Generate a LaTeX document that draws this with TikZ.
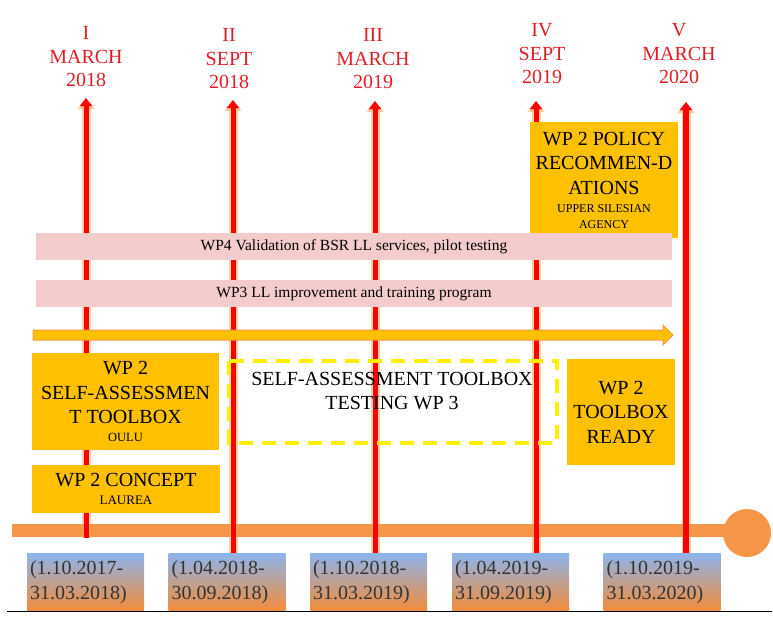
\documentclass[tikz,border=0pt]{standalone}
\usepackage{fontspec}
\setmainfont{Liberation Serif}
\usetikzlibrary{arrows.meta}

\definecolor{gold}{RGB}{255,192,0}
\definecolor{barorange}{RGB}{247,150,70}
\definecolor{bandpink}{RGB}{244,204,204}
\definecolor{lblred}{RGB}{222,30,36}
\definecolor{dateblue}{RGB}{141,180,236}
\definecolor{dateorange}{RGB}{242,140,58}
\definecolor{testyellow}{RGB}{255,240,0}

\tikzset{
	datelabel/.style={text=lblred, align=center, font=\fontsize{20}{23.5}\selectfont},
	goldbox/.style={fill=gold, align=center, inner sep=2pt, font=\fontsize{20}{24.5}\selectfont},
	band/.style={fill=bandpink, minimum width=636pt, minimum height=27pt, inner sep=0pt, font=\fontsize{15.5}{18}\selectfont},
	datebox/.style={shading=axis, top color=dateblue, bottom color=dateorange, minimum width=117pt, minimum height=57pt, text width=111pt, align=left, inner sep=3pt, font=\fontsize{20}{25}\selectfont, text=black!80},
	halo/.style={draw=orange!70, opacity=0.5, line width=9pt, -{Triangle[width=17pt,length=11pt]}},
	redarrow/.style={draw=red, line width=5pt, -{Triangle[width=12pt,length=8pt]}},
}

\begin{document}
\begin{tikzpicture}[x=1pt, y=-1pt]
		%%%%% START %%%%%
		\useasboundingbox (0, 0) rectangle (773, 619);
		
		% time axis
		\coordinate (axl) at (12, 530);
		\coordinate (axr) at (747, 530);
		\draw[line width=13pt, barorange] (axl) -- (axr);
		\fill[barorange] (747, 533) circle (24);
		\draw (7, 611) -- (772, 611);
		
		% milestones
		\node[datelabel] (m1) at (86, 57) {I\\MARCH\\2018};
		\node[datelabel] (m2) at (229, 59) {II\\SEPT\\2018};
		\node[datelabel] (m3) at (373, 59) {III\\MARCH\\2019};
		\node[datelabel] (m4) at (542, 54) {IV\\SEPT\\2019};
		\node[datelabel] (m5) at (679, 54) {V\\MARCH\\2020};
		
		\coordinate (t1) at (86, 98);
		\coordinate (t2) at (233, 100);
		\coordinate (t3) at (375, 101);
		\coordinate (t4) at (536, 101);
		\coordinate (t5) at (686, 102);
		\coordinate (b1) at (86, 538);
		\coordinate (b2) at (233, 555);
		\coordinate (b3) at (375, 555);
		\coordinate (b4) at (536, 555);
		\coordinate (b5) at (686, 555);
		
		\draw[halo] (b1) -- (t1);
		\draw[halo] (b2) -- (t2);
		\draw[halo] (b3) -- (t3);
		\draw[halo] (b4) -- (t4);
		\draw[halo] (b5) -- (t5);
		\draw[redarrow] (b1) -- (t1);
		\draw[redarrow] (b2) -- (t2);
		\draw[redarrow] (b3) -- (t3);
		\draw[redarrow] (b4) -- (t4);
		\draw[redarrow, line width=6pt] (b5) -- (t5);
		
		% periods
		\node[datebox] (d1) at (85.5, 582) {(1.10.2017-\\31.03.2018)};
		\node[datebox] (d2) at (227, 582) {(1.04.2018-\\30.09.2018)};
		\node[datebox] (d3) at (368.5, 582) {(1.10.2018-\\31.03.2019)};
		\node[datebox] (d4) at (510.5, 582) {(1.04.2019-\\31.09.2019)};
		\node[datebox] (d5) at (662, 582) {(1.10.2019-\\31.03.2020)};
		
		% work packages
		\node[goldbox, minimum width=148pt, minimum height=116pt] (policy) at (604, 180)
			{WP 2 POLICY\\RECOMMEN-D\\ATIONS\\[-6pt]{\fontsize{12}{14}\selectfont UPPER SILESIAN}\\[-9pt]{\fontsize{12}{14}\selectfont AGENCY}};
		
		\node[band] (wp4) at (354, 246.5) {WP4 Validation of BSR LL services, pilot testing};
		\node[band] (wp3) at (354, 293.5) {WP3 LL improvement and training program};
		
		\draw[fill=gold, draw=barorange, line width=1pt] (33, 330) -- (663, 330) -- (663, 325) -- (673, 335)
			-- (663, 345) -- (663, 340) -- (33, 340) -- cycle;
		
		\node[goldbox, minimum width=187pt, minimum height=97pt] (oulu) at (125.5, 401.5)
			{WP 2\\SELF-ASSESSMEN\\T TOOLBOX\\[-7pt]{\fontsize{12.5}{14}\selectfont OULU}};
		\node[goldbox, minimum width=188pt, minimum height=48pt] (laurea) at (126, 489)
			{WP 2 CONCEPT\\[-7pt]{\fontsize{13}{14}\selectfont LAUREA}};
		
		\draw[testyellow, line width=4pt, dash pattern=on 14pt off 9pt] (229, 361) rectangle (557, 443);
		\node[align=center, font=\fontsize{20}{24}\selectfont] (testing) at (392, 391)
			{SELF-ASSESSMENT TOOLBOX\\TESTING WP 3};
		
		\node[goldbox, minimum width=108pt, minimum height=106pt] (ready) at (621, 412)
			{WP 2\\TOOLBOX\\READY};
		
		%%%%% END %%%%%
\end{tikzpicture}
\end{document}
